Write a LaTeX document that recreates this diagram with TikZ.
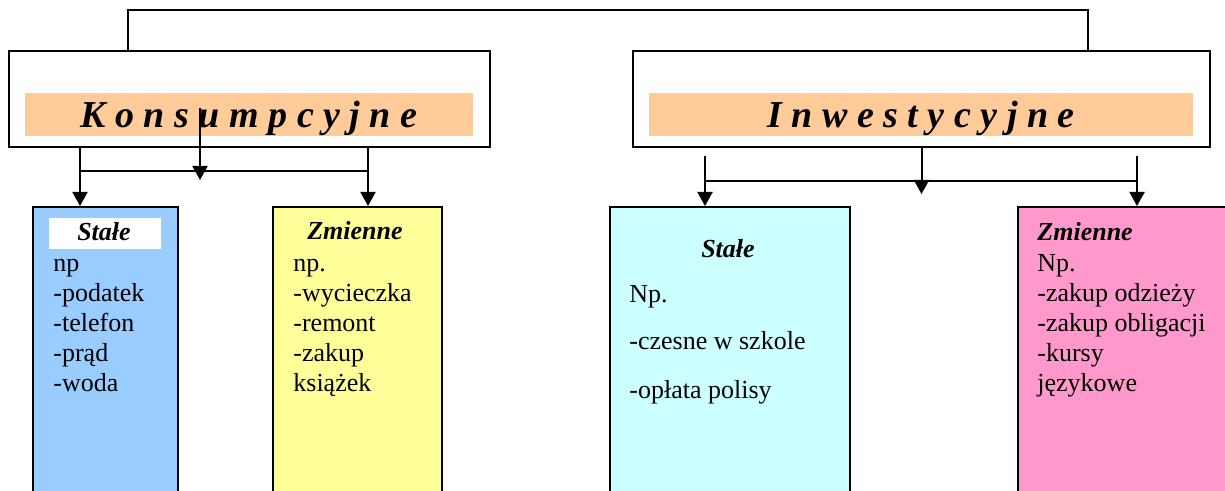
\documentclass[tikz,border=0pt]{standalone}
\usepackage{fontspec}
\setmainfont{Liberation Serif}
\usetikzlibrary{arrows.meta}
\usetikzlibrary{calc}

\definecolor{pasek}{HTML}{FFCC99}
\definecolor{niebieski}{HTML}{99CCFF}
\definecolor{zolty}{HTML}{FFFF99}
\definecolor{blekit}{HTML}{CCFFFF}
\definecolor{rozowy}{HTML}{FF99CC}

\begin{document}
\begin{tikzpicture}[x=0.5pt, y=-0.5pt,
    box/.style={draw, line width=1pt, anchor=north west, inner sep=0pt},
    band/.style={fill=pasek, anchor=north west, inner sep=0pt, minimum height=21.5pt},
    lin/.style={line width=1pt},
    arr/.style={line width=1pt, -{Triangle[length=7pt, width=7.5pt]}},
    title/.style={anchor=base, inner sep=0pt, font=\fontsize{19}{21}\selectfont\bfseries\itshape},
    head/.style={anchor=base, inner sep=0pt, font=\fontsize{13}{15}\selectfont\bfseries\itshape},
    txt/.style={anchor=base west, inner sep=0pt, font=\fontsize{13}{15}\selectfont}]
      \clip (0, 0) rectangle (1225, 491);

      \node[box, minimum width=240.5pt, minimum height=48pt] (konsbox) at (8, 50) {};
      \node[band, minimum width=224pt] (konsband) at (25, 93) {};
      \node[title] (konstxt) at (249, 128) {K o n s u m p c y j n e};

      \node[box, minimum width=288.5pt, minimum height=48pt] (inwbox) at (632, 50) {};
      \node[band, minimum width=272pt] (inwband) at (649, 93) {};
      \node[title] (inwtxt) at (921, 128) {I n w e s t y c y j n e};

      \node[box, fill=niebieski, minimum width=72.5pt, minimum height=150pt] (ksbox) at (32, 206) {};
      \node[box, draw=none, fill=white, minimum width=56pt, minimum height=15.5pt] (kslab) at (48, 217) {};
      \node[head] (kshead) at (104, 241) {Stałe};
      \foreach \t [count=\i] in {np, -podatek, -telefon, -prąd, -woda}
        \node[txt] (ks\i) at (53, 242+30*\i) {\t};

      \node[box, fill=zolty, minimum width=84.5pt, minimum height=150pt] (kzbox) at (272, 206) {};
      \node[head] (kzhead) at (355, 240) {Zmienne};
      \foreach \t [count=\i] in {np., -wycieczka, -remont, -zakup, książek}
        \node[txt] (kz\i) at (293, 242+30*\i) {\t};

      \node[box, fill=blekit, minimum width=120pt, minimum height=150pt] (isbox) at (609, 206) {};
      \node[head] (ishead) at (728, 258) {Stałe};
      \node[txt] (is1) at (629, 303) {Np.};
      \node[txt] (is2) at (629, 350) {-czesne w szkole};
      \node[txt] (is3) at (629, 398) {-opłata polisy};

      \node[box, fill=rozowy, minimum width=120pt, minimum height=150pt] (izbox) at (1017, 206) {};
      \node[head, anchor=base west] (izhead) at (1037, 241) {Zmienne};
      \foreach \t [count=\i] in {Np., -zakup odzieży, -zakup obligacji, -kursy, językowe}
        \node[txt] (iz\i) at (1037, 242+30*\i) {\t};

      \coordinate (ktop) at (128, 10);
      \coordinate (itop) at (1088, 10);
      \draw[lin] (ktop |- konsbox.north) -- (ktop) -- (itop) -- (itop |- inwbox.north);

      \coordinate (kl) at (80, 171);
      \coordinate (kr) at (368, 171);
      \draw[arr] (kl |- konsbox.south) -- (kl |- ksbox.north);
      \draw[arr] (kr |- konsbox.south) -- (kr |- kzbox.north);
      \draw[lin] (kl) -- (kr);
      \coordinate (kmtop) at (200, 108);
      \coordinate (kmend) at (200, 180);
      \draw[arr] (kmtop) -- (kmend);

      \coordinate (il) at (705, 181);
      \coordinate (ir) at (1137, 181);
      \coordinate (iltop) at (705, 156);
      \coordinate (irtop) at (1137, 156);
      \draw[arr] (iltop) -- (il |- isbox.north);
      \draw[arr] (irtop) -- (ir |- izbox.north);
      \draw[lin] (il) -- (ir);
      \coordinate (imend) at (921, 194);
      \draw[arr] (inwbox.south) -- (inwbox.south |- imend);
\end{tikzpicture}
\end{document}
